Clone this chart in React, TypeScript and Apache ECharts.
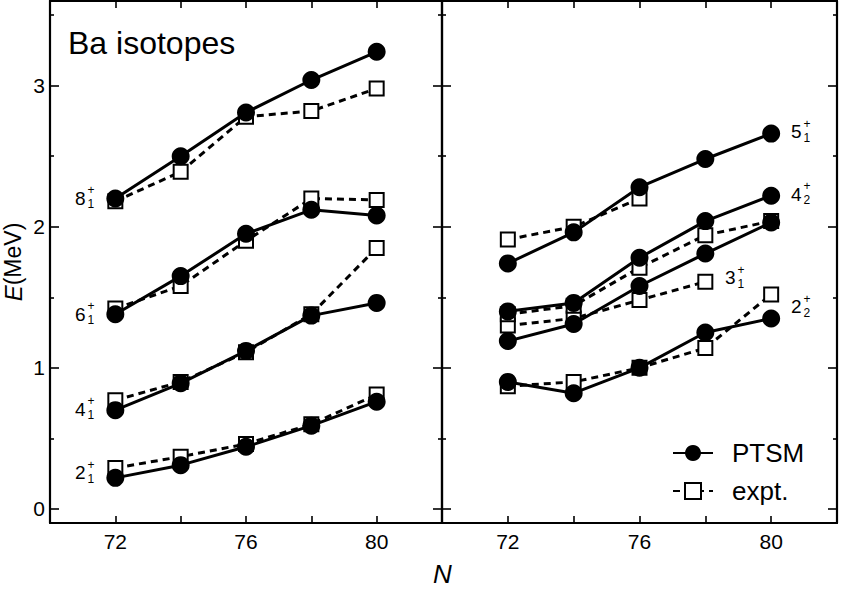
import React, { useEffect, useRef } from "react";
import * as echarts from "echarts";

// ---- data ----
const N = [72, 74, 76, 78, 80];

// left panel (yrast levels)
const ptsm2_1 = [0.22, 0.31, 0.44, 0.59, 0.76];
const expt2_1 = [0.29, 0.37, 0.46, 0.6, 0.81];
const ptsm4_1 = [0.7, 0.89, 1.12, 1.37, 1.46];
const expt4_1 = [0.77, 0.9, 1.11, 1.38, 1.85];
const ptsm6_1 = [1.38, 1.65, 1.95, 2.12, 2.08];
const expt6_1 = [1.42, 1.58, 1.9, 2.2, 2.19];
const ptsm8_1 = [2.2, 2.5, 2.81, 3.04, 3.24];
const expt8_1 = [2.18, 2.39, 2.78, 2.82, 2.98];

// right panel (non-yrast levels)
const ptsm2_2 = [0.9, 0.82, 1.0, 1.25, 1.35];
const expt2_2 = [0.87, 0.9, 1.0, 1.14, 1.52];
const ptsm3_1 = [1.19, 1.31, 1.58, 1.81, 2.03];
const expt3_1 = [1.3, 1.35, 1.48, 1.61];
const ptsm4_2 = [1.4, 1.46, 1.78, 2.04, 2.22];
const expt4_2 = [1.38, 1.44, 1.71, 1.94, 2.04];
const ptsm5_1 = [1.74, 1.96, 2.28, 2.48, 2.66];
const expt5_1 = [1.91, 2.0, 2.2];

const xLabels = [72, 76, 80];
const yLabels = [0, 1, 2, 3];
const yMinor = [0.5, 1.5, 2.5, 3.5];

// level annotations (text pieces)
const levelLabels = [
  { base: "8", sub: "1", x: 75, y: 198 },
  { base: "6", sub: "1", x: 75, y: 314 },
  { base: "4", sub: "1", x: 75, y: 409 },
  { base: "2", sub: "1", x: 75, y: 472.5 },
  { base: "5", sub: "1", x: 791, y: 131.5 },
  { base: "4", sub: "2", x: 791, y: 194 },
  { base: "3", sub: "1", x: 725, y: 277.5 },
  { base: "2", sub: "2", x: 791, y: 306.5 },
];

const FONT = '"Liberation Sans", Arial, Helvetica, sans-serif';
const BLACK = "#000";

const toPts = (vals: number[]) => vals.map((v, i) => [N[i], v]);

export default function App() {
  const ref = useRef<HTMLDivElement>(null);

  useEffect(() => {
    if (!ref.current) return;
    const chart = echarts.init(ref.current, undefined, { renderer: "svg" });

    const xAxisBase = (grid: number, pos: "bottom" | "top", labels: boolean) => ({
      type: "value",
      gridIndex: grid,
      position: pos,
      min: 70,
      max: 82,
      interval: 2,
      axisLine: { show: true, onZero: false, lineStyle: { color: BLACK, width: 2.2 } },
      axisTick: { show: true, inside: true, length: 7, lineStyle: { color: BLACK, width: 1.6 } },
      axisLabel: {
        show: labels,
        margin: 8,
        color: BLACK,
        fontSize: 21,
        fontFamily: FONT,
        formatter: (v: number) => (xLabels.includes(v) ? String(v) : ""),
      },
      splitLine: { show: false },
    });

    const yAxisBase = (
      grid: number,
      pos: "left" | "right",
      major: boolean,
      labels: boolean,
      name?: string
    ) => ({
      type: "value",
      gridIndex: grid,
      position: pos,
      min: -0.1,
      max: 3.6,
      name: name || "",
      nameLocation: "middle",
      nameGap: 25,
      nameTextStyle: {
        fontSize: 23,
        fontFamily: FONT,
        color: BLACK,
        rich: { i: { fontSize: 24, fontStyle: "italic", fontFamily: FONT, color: BLACK } },
      },
      axisLine: { show: major, onZero: false, lineStyle: { color: BLACK, width: 2.2 } },
      axisTick: {
        show: true,
        inside: true,
        length: major ? 9 : 4,
        customValues: major ? yLabels : yMinor,
        lineStyle: { color: BLACK, width: 1.6 },
      },
      axisLabel: {
        show: labels,
        margin: 5,
        color: BLACK,
        fontSize: 21,
        fontFamily: FONT,
        customValues: yLabels,
      },
      splitLine: { show: false },
    });

    const ptsm = (vals: number[], panel: number) => ({
      name: "PTSM",
      type: "line",
      xAxisIndex: panel === 0 ? 0 : 2,
      yAxisIndex: panel === 0 ? 0 : 4,
      data: toPts(vals),
      symbol: "circle",
      symbolSize: 18,
      z: 4,
      lineStyle: { color: BLACK, width: 3, type: "solid" },
      itemStyle: { color: BLACK, borderColor: BLACK, borderWidth: 0 },
    });

    const expt = (vals: number[], panel: number) => ({
      name: "expt.",
      type: "line",
      xAxisIndex: panel === 0 ? 0 : 2,
      yAxisIndex: panel === 0 ? 0 : 4,
      data: toPts(vals),
      symbol: "rect",
      symbolSize: 14,
      z: 3,
      lineStyle: { color: BLACK, width: 3, type: [7, 5] },
      itemStyle: { color: "#fff", borderColor: BLACK, borderWidth: 2 },
    });

    const graphics: any[] = [
      {
        type: "text",
        left: 68,
        top: 27,
        style: { text: "Ba isotopes", fontSize: 32, fontFamily: FONT, fill: BLACK },
      },
      {
        type: "text",
        x: 442.5,
        y: 574,
        style: {
          text: "N",
          fontSize: 26,
          fontStyle: "italic",
          fontFamily: FONT,
          fill: BLACK,
          align: "center",
          verticalAlign: "middle",
        },
      },
    ];
    levelLabels.forEach((l) => {
      graphics.push({
        type: "text",
        x: l.x,
        y: l.y,
        style: { text: l.base, fontSize: 19, fontFamily: FONT, fill: BLACK, verticalAlign: "middle" },
      });
      graphics.push({
        type: "text",
        x: l.x + 12.5,
        y: l.y - 8,
        style: { text: "+", fontSize: 12, fontFamily: FONT, fill: BLACK, verticalAlign: "middle" },
      });
      graphics.push({
        type: "text",
        x: l.x + 12.5,
        y: l.y + 6,
        style: { text: l.sub, fontSize: 12, fontFamily: FONT, fill: BLACK, verticalAlign: "middle" },
      });
    });

    chart.setOption({
      animation: false,
      backgroundColor: "#fff",
      grid: [
        { left: 50, top: 1, width: 392, height: 522 },
        { left: 442, top: 1, width: 395, height: 522 },
      ],
      xAxis: [
        xAxisBase(0, "bottom", true),
        xAxisBase(0, "top", false),
        xAxisBase(1, "bottom", true),
        xAxisBase(1, "top", false),
      ],
      yAxis: [
        yAxisBase(0, "left", true, true, "{i|E}(MeV)"),
        yAxisBase(0, "left", false, false),
        yAxisBase(0, "right", true, false),
        yAxisBase(0, "right", false, false),
        yAxisBase(1, "left", true, false),
        yAxisBase(1, "left", false, false),
        yAxisBase(1, "right", true, false),
        yAxisBase(1, "right", false, false),
      ],
      legend: {
        data: ["PTSM", "expt."],
        orient: "vertical",
        left: 672,
        top: 440,
        padding: 0,
        itemWidth: 40,
        itemHeight: 20,
        itemGap: 12,
        textStyle: { fontSize: 26, fontFamily: FONT, color: BLACK, padding: [0, 0, 0, 14] },
      },
      series: [
        expt(expt2_1, 0),
        expt(expt4_1, 0),
        expt(expt6_1, 0),
        expt(expt8_1, 0),
        expt(expt2_2, 1),
        expt(expt3_1, 1),
        expt(expt4_2, 1),
        expt(expt5_1, 1),
        ptsm(ptsm2_1, 0),
        ptsm(ptsm4_1, 0),
        ptsm(ptsm6_1, 0),
        ptsm(ptsm8_1, 0),
        ptsm(ptsm2_2, 1),
        ptsm(ptsm3_1, 1),
        ptsm(ptsm4_2, 1),
        ptsm(ptsm5_1, 1),
      ],
      graphic: graphics,
    });

    return () => chart.dispose();
  }, []);

  return (
    <div
      ref={ref}
      style={{ position: "fixed", left: 0, top: 0, width: 846, height: 592, background: "#fff" }}
    />
  );
}
